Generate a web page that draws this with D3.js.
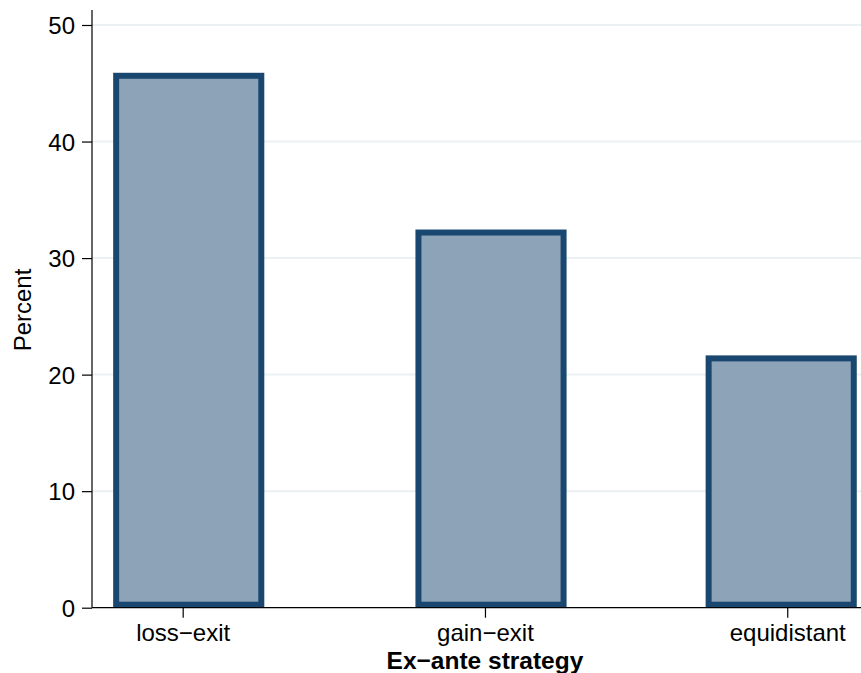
<!DOCTYPE html>
<html><head><meta charset="utf-8">
<script src="https://cdn.jsdelivr.net/npm/d3@7"></script>
<style>body{margin:0;background:#fff}svg{display:block}text{font-family:"Liberation Sans",Arial,Helvetica,sans-serif;fill:#000}</style>
</head><body><svg id="c" width="861" height="673"></svg>
<script>
const categories = ["loss\u2212exit", "gain\u2212exit", "equidistant"];
const tickPos = [1, 2, 3];
const barCenter = [1.02, 2.02, 2.98];
const barWidth = 0.5;
const values = [45.9, 32.45, 21.65];
const yTicks = [0, 10, 20, 30, 40, 50];
const xTitle = "Ex\u2212ante strategy";
const yTitle = "Percent";

const svg = d3.select("#c");
const x = d3.scaleLinear().domain([0.7, 3.244]).range([92, 861]);
const y = d3.scaleLinear().domain([0, 50]).range([607.7, 25]);
const sw = 6;

// gridlines
svg.append("g").selectAll("line").data(yTicks.filter(d => d > 0)).join("line")
  .attr("x1", 92).attr("x2", 861).attr("y1", d => y(d)).attr("y2", d => y(d))
  .attr("stroke", "#e9f1f2").attr("stroke-width", 2);

// bars (outline inset)
svg.append("g").selectAll("rect").data(values).join("rect")
  .attr("x", (d, i) => x(barCenter[i] - barWidth / 2) + sw / 2)
  .attr("width", (d, i) => x(barCenter[i] + barWidth / 2) - x(barCenter[i] - barWidth / 2) - sw)
  .attr("y", d => y(d) + sw / 2)
  .attr("height", d => y(0) - y(d) - sw)
  .attr("fill", "#8ca3b8").attr("stroke", "#1a476f").attr("stroke-width", sw);

// y axis
const ya = svg.append("g").attr("transform", "translate(92,0)")
  .call(d3.axisLeft(y).tickValues(yTicks).tickSize(10).tickPadding(7).tickFormat(d3.format("d")));
ya.select(".domain").attr("d", `M0,10V${y(0)}`).attr("stroke", "#000").attr("stroke-width", 1.2);
ya.selectAll(".tick line").attr("stroke", "#000").attr("stroke-width", 1.2);
ya.selectAll(".tick text").attr("font-size", 24).attr("font-family", "Liberation Sans, Arial, sans-serif").attr("fill", "#000").attr("dy", "0.36em");

// x axis
const xa = svg.append("g").attr("transform", `translate(0,${y(0)})`)
  .call(d3.axisBottom(x).tickValues(tickPos).tickSize(10).tickPadding(6).tickFormat((d, i) => categories[i]));
xa.select(".domain").attr("d", "M92,0H861").attr("stroke", "#000").attr("stroke-width", 1.2);
xa.selectAll(".tick line").attr("stroke", "#000").attr("stroke-width", 1.2);
xa.selectAll(".tick text").attr("font-size", 24).attr("font-family", "Liberation Sans, Arial, sans-serif").attr("fill", "#000").attr("dy", "0.71em");

svg.append("text").attr("x", x(2)).attr("y", 669).attr("text-anchor", "middle")
  .attr("font-size", 24.5).attr("font-weight", "bold").text(xTitle);
svg.append("text").attr("transform", "translate(31,310) rotate(-90)").attr("text-anchor", "middle")
  .attr("font-size", 24).text(yTitle);
</script></body></html>
